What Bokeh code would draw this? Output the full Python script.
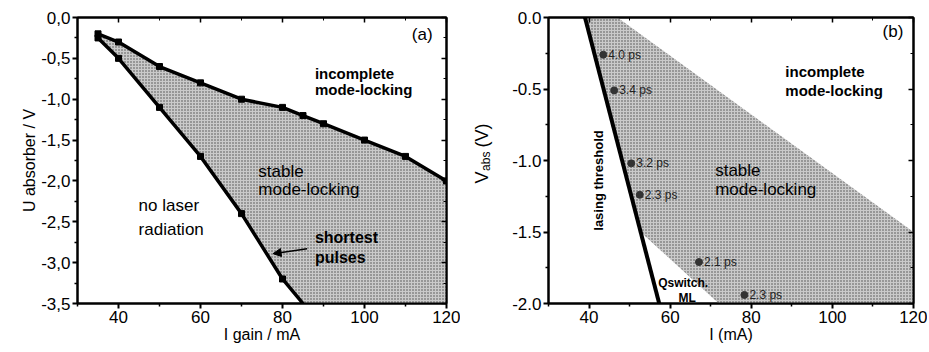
import math
from bokeh.plotting import figure
from bokeh.models import (ColumnDataSource, FixedTicker, LinearAxis, CustomJSTickFormatter,
                          Label, Arrow, NormalHead, Range1d)
from bokeh.layouts import row
from bokeh.embed import file_html
from bokeh.resources import INLINE
from bokeh.core.properties import value

FONT = "Liberation Sans"

# ---------------- data: panel (a) ----------------
a_upper_current = [35, 40, 50, 60, 70, 80, 85, 90, 100, 110, 120]
a_upper_voltage = [-0.2, -0.3, -0.6, -0.8, -1.0, -1.1, -1.2, -1.3, -1.5, -1.7, -2.0]
a_lower_current = [35, 40, 50, 60, 70, 80]
a_lower_voltage = [-0.25, -0.5, -1.1, -1.7, -2.4, -3.2]
a_lower_end = (85, -3.5)          # where the threshold line leaves the frame
a_x_ticks = [40, 60, 80, 100, 120]
a_x_minor = [30, 50, 70, 90, 110]
a_y_ticks = [0, -0.5, -1.0, -1.5, -2.0, -2.5, -3.0, -3.5]
a_y_minor = [-0.25, -0.75, -1.25, -1.75, -2.25, -2.75, -3.25]

# ---------------- data: panel (b) ----------------
b_threshold_current = [39, 57.3]
b_threshold_voltage = [0, -2.0]
b_region_current = [39, 47, 120, 120, 72, 52.7]
b_region_voltage = [0, 0, -1.5, -2.0, -2.0, -1.5]
b_pulse_current = [43.5, 46.2, 50.4, 52.5, 67.1, 78.3]
b_pulse_voltage = [-0.26, -0.51, -1.02, -1.24, -1.71, -1.94]
b_pulse_labels = ["4.0 ps", "3.4 ps", "3.2 ps", "2.3 ps", "2.1 ps", "2.3 ps"]
b_x_ticks = [40, 60, 80, 100, 120]
b_x_minor = [30, 50, 70, 90, 110]
b_y_ticks = [0, -0.5, -1.0, -1.5, -2.0]
b_y_minor = [-0.25, -0.75, -1.25, -1.75]

FILL = "#cacaca"
HATCH = dict(hatch_pattern="dot", hatch_color="#4a4a4a", hatch_scale=3, hatch_weight=1)
H = 350


def style(p, xt, xm, yt, ym, decimal):
    p.outline_line_color = "black"
    p.outline_line_width = 2
    p.grid.visible = False
    fmt_y = CustomJSTickFormatter(code="return tick.toFixed(1).replace('.', '%s');" % decimal)
    for ax in p.xaxis:
        ax.ticker = FixedTicker(ticks=xt, minor_ticks=xm)
    for ax in p.yaxis:
        ax.ticker = FixedTicker(ticks=yt, minor_ticks=ym)
        ax.formatter = fmt_y
    for ax in p.xaxis + p.yaxis:
        ax.axis_line_width = 2
        ax.major_tick_line_width = 2
        ax.minor_tick_line_width = 1.5
        ax.major_tick_in = 0
        ax.major_tick_out = 5
        ax.minor_tick_in = 0
        ax.minor_tick_out = 3
        ax.major_label_text_font = FONT
        ax.major_label_text_font_size = "17px"
        ax.major_label_text_color = "black"
        ax.major_label_standoff = 2
        ax.axis_label_text_font = FONT
        ax.axis_label_text_font_size = "16px"
        ax.axis_label_text_font_style = "normal"
        ax.axis_label_text_color = "black"
        ax.axis_label_standoff = 0
    # mirrored axes (ticks only)
    top = LinearAxis(ticker=FixedTicker(ticks=xt, minor_ticks=xm),
                     formatter=CustomJSTickFormatter(code="return '';"))
    right = LinearAxis(ticker=FixedTicker(ticks=yt, minor_ticks=ym),
                       formatter=CustomJSTickFormatter(code="return '';"))
    for ax in (top, right):
        ax.axis_line_width = 2
        ax.major_tick_in = 5
        ax.major_tick_out = 0
        ax.minor_tick_in = 3
        ax.minor_tick_out = 0
        ax.major_tick_line_width = 1.5
        ax.major_label_text_font_size = "0px"
        ax.major_label_standoff = 0
    p.add_layout(top, "above")
    p.add_layout(right, "right")


def txt(p, x, y, s, size, bold=False, align="left", angle=0.0, color="black", baseline="middle"):
    p.add_layout(Label(x=x, y=y, text=s, text_font=FONT, text_font_size=size,
                       text_font_style="bold" if bold else "normal", text_align=align,
                       text_baseline=baseline, angle=angle, text_color=color))


# ================= panel (a) =================
pa = figure(width=460, height=H, output_backend="svg", toolbar_location=None,
            x_range=Range1d(30, 120), y_range=Range1d(-3.5, 0),
            min_border_left=77, min_border_right=14, min_border_top=16, min_border_bottom=H - 303,
            x_axis_label="I gain / mA", y_axis_label="U absorber / V")
style(pa, a_x_ticks, a_x_minor, a_y_ticks, a_y_minor, ",")

poly_x = a_upper_current + [120, a_lower_end[0]] + a_lower_current[::-1]
poly_y = a_upper_voltage + [-3.5, a_lower_end[1]] + a_lower_voltage[::-1]
pa.patch(poly_x, poly_y, fill_color=FILL, line_color=None, **HATCH)

pa.line(a_upper_current, a_upper_voltage, line_color="black", line_width=3.5)
pa.line(a_lower_current + [a_lower_end[0]], a_lower_voltage + [a_lower_end[1]],
        line_color="black", line_width=3.5)
pa.scatter(a_upper_current, a_upper_voltage, marker="square", size=6, color="black")
pa.scatter(a_lower_current, a_lower_voltage, marker="square", size=6, color="black")

txt(pa, 116.6, -0.21, "(a)", "17px", align="right")
txt(pa, 87.9, -0.68, "incomplete", "15px", bold=True)
txt(pa, 87.9, -0.88, "mode-locking", "15px", bold=True)
txt(pa, 74.1, -1.88, "stable", "17px")
txt(pa, 74.1, -2.10, "mode-locking", "17px")
txt(pa, 44.9, -2.30, "no laser", "17px")
txt(pa, 44.9, -2.59, "radiation", "17px")
txt(pa, 87.9, -2.69, "shortest", "16px", bold=True)
txt(pa, 87.9, -2.94, "pulses", "16px", bold=True)
pa.add_layout(Arrow(end=NormalHead(size=8, fill_color="black", line_color="black"),
                    x_start=86, y_start=-2.83, x_end=77.7, y_end=-2.89,
                    line_width=1.5, line_color="black"))

# ================= y label of panel (b): V_abs (V) =================
LW = 40
pl = figure(width=LW, height=H, output_backend="svg", toolbar_location=None,
            x_range=Range1d(0, LW), y_range=Range1d(H, 0),
            x_axis_type=None, y_axis_type=None, min_border=0)
pl.outline_line_color = None
pl.grid.visible = False
lx, ly = 21, 203
pl.add_layout(Label(x=lx, y=ly, text="V", text_font=FONT, text_font_size="18px",
                    angle=math.pi / 2, text_align="left", text_baseline="alphabetic",
                    text_color="black"))
pl.add_layout(Label(x=lx, y=ly, text="abs", text_font=FONT, text_font_size="12px",
                    angle=math.pi / 2, text_align="left", text_baseline="alphabetic",
                    y_offset=12.5, x_offset=4, text_color="black"))
pl.add_layout(Label(x=lx, y=ly, text="(V)", text_font=FONT, text_font_size="18px",
                    angle=math.pi / 2, text_align="left", text_baseline="alphabetic",
                    y_offset=36, text_color="black"))

# ================= panel (b) =================
pb = figure(width=427, height=H, output_backend="svg", toolbar_location=None,
            x_range=Range1d(30, 120), y_range=Range1d(-2.0, 0),
            min_border_left=548 - 460 - LW, min_border_right=14, min_border_top=17,
            min_border_bottom=H - 303, x_axis_label="I (mA)")
style(pb, b_x_ticks, b_x_minor, b_y_ticks, b_y_minor, ".")

pb.patch(b_region_current, b_region_voltage, fill_color=FILL, line_color=None, **HATCH)
pb.line(b_threshold_current, b_threshold_voltage, line_color="black", line_width=4)
src = ColumnDataSource(dict(x=b_pulse_current, y=b_pulse_voltage, t=b_pulse_labels))
pb.scatter("x", "y", source=src, marker="circle", size=7, color="#333333")
pb.text("x", "y", text="t", source=src, x_offset=5, text_font=value(FONT),
        text_font_size="12px", text_baseline="middle", text_color="#222222")

txt(pb, 117.5, -0.10, "(b)", "17px", align="right")
txt(pb, 88.4, -0.38, "incomplete", "15px", bold=True)
txt(pb, 88.4, -0.51, "mode-locking", "15px", bold=True)
txt(pb, 71.1, -1.07, "stable", "17px")
txt(pb, 71.1, -1.20, "mode-locking", "17px")
txt(pb, 42.4, -1.14, "lasing threshold", "13px", bold=True, align="center", angle=math.pi / 2)
txt(pb, 63.2, -1.86, "Qswitch.", "12px", bold=True, align="center")
txt(pb, 64.2, -1.96, "ML", "12px", bold=True, align="center")

layout = row(pa, pl, pb)
open("out.html", "w").write(file_html(layout, INLINE))
